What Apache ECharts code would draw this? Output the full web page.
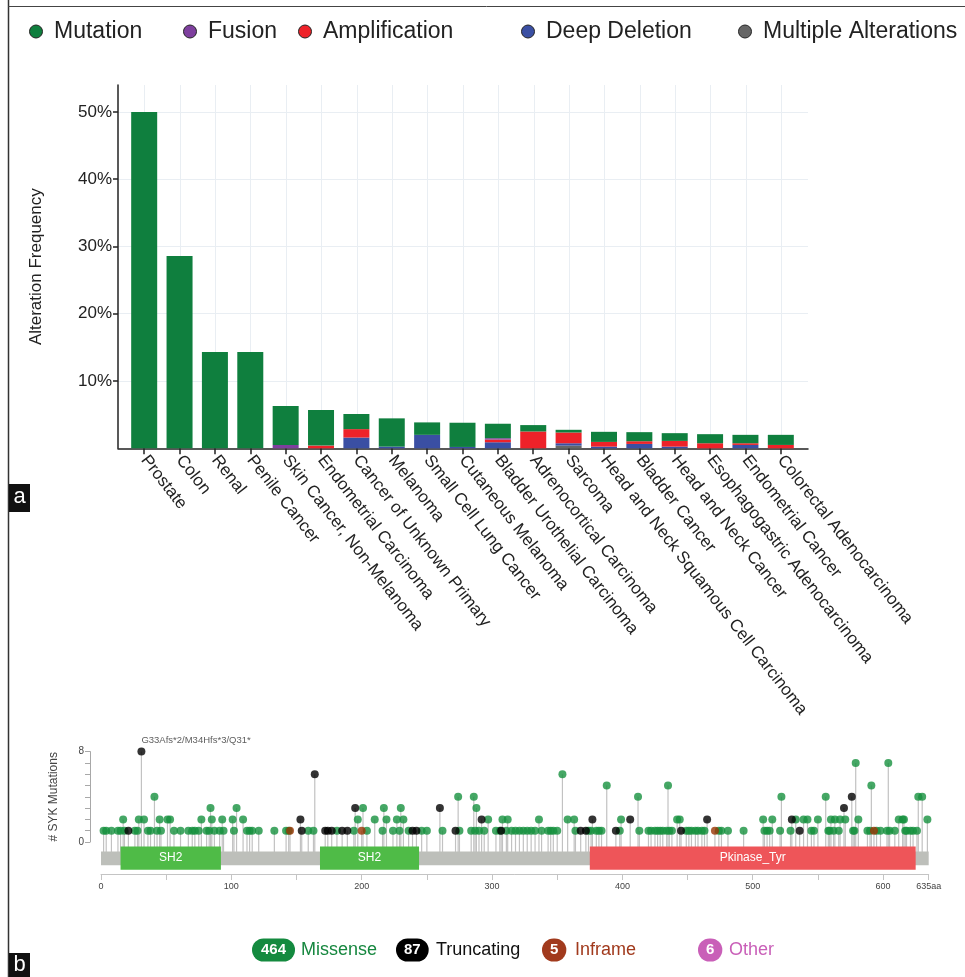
<!DOCTYPE html>
<html><head><meta charset="utf-8">
<script src="https://cdn.jsdelivr.net/npm/echarts@6/dist/echarts.min.js"></script>
<style>html,body{margin:0;padding:0;background:#fff}#c{width:965px;height:977px}</style>
</head><body><div id="c"></div>
<script>
// ---------- Panel a: alteration frequency ----------
const cancerTypes = ["Prostate","Colon","Renal","Penile Cancer","Skin Cancer, Non-Melanoma","Endometrial Carcinoma","Cancer of Unknown Primary","Melanoma","Small Cell Lung Cancer","Cutaneous Melanoma","Bladder Urothelial Carcinoma","Adrenocortical Carcinoma","Sarcoma","Head and Neck Squamous Cell Carcinoma","Bladder Cancer","Head and Neck Cancer","Esophagogastric Adenocarcinoma","Endometrial Cancer","Colorectal Adenocarcinoma"];
const mutationFreq      = [50, 28.6, 14.3, 14.3, 5.8, 5.3, 2.25, 4.2, 1.85, 3.6, 2.15, 0.95, 0.4, 1.5, 1.35, 1.15, 1.35, 1.25, 1.5];
const fusionFreq        = [0, 0, 0, 0, 0.5, 0, 0, 0, 0, 0, 0.2, 0, 0, 0, 0, 0, 0, 0, 0];
const amplificationFreq = [0, 0, 0, 0, 0, 0.4, 1.25, 0, 0, 0, 0.4, 2.5, 1.6, 0.7, 0.4, 0.85, 0.75, 0.25, 0.5];
const deepDeletionFreq  = [0, 0, 0, 0, 0, 0, 1.6, 0.25, 2.0, 0.2, 0.9, 0, 0.35, 0.25, 0.65, 0.25, 0, 0.5, 0];
const multipleAltFreq   = [0, 0, 0, 0, 0, 0, 0, 0, 0, 0, 0, 0, 0.4, 0, 0, 0, 0, 0, 0];
const freqTicks = [10, 20, 30, 40, 50];

// ---------- Panel b: SYK lollipop ----------
const proteinLength = 635;
const domainNames = ["SH2", "SH2", "Pkinase_Tyr"];
const domainStart = [15, 168, 375];
const domainEnd   = [92, 244, 625];
const positionTicks = [0, 50, 100, 150, 200, 250, 300, 350, 400, 450, 500, 550, 600, 635];
const positionLabels = [0, 100, 200, 300, 400, 500, 600, 635];

const missenseCount1 = [2,4,8,13,15,18,26,28,36,38,43,46,56,61,67,70,72,75,81,83,87,91,94,102,112,114,116,121,133,142,144,159,163,181,194,204,216,224,229,236,246,250,262,275,284,287,290,294,303,306,311,315,318,321,324,327,330,333,338,343,345,347,350,364,374,376,380,382,384,398,413,420,422,425,427,429,431,434,436,438,449,451,453,456,458,461,463,474,476,481,493,509,511,513,521,529,545,547,558,559,562,566,577,578,588,590,595,598,603,605,609,617,618,621,623,626];
const missenseCount2 = [17,29,33,45,51,53,77,85,93,101,109,197,210,219,227,232,297,308,312,336,358,363,399,442,444,508,515,533,539,542,550,560,563,567,571,581,612,615,616,634];
const missenseCount3 = [84,104,201,217,230,288];
const missenseCount4 = [41,274,286,412,522,556,627,630];
const missenseCount5 = [388,435,591];
const missenseCount6 = [354];
const missenseCount7 = [579,604];
const truncatingCount1 = [21,154,172,174,177,185,189,239,242,272,307,368,372,395,445,536];
const truncatingCount2 = [153,292,377,406,465,530];
const truncatingCount3 = [195,260,570];
const truncatingCount4 = [576];
const truncatingCount6 = [164];
const truncatingCount8 = [31];
const inframeCount1 = [145,200,471,593];
const hotspotPosition = 31;
const hotspotLabel = "G33Afs*2/M34Hfs*3/Q31*";

const legendCounts = ["464", "87", "5", "6"];
const legendTypes = ["Missense", "Truncating", "Inframe", "Other"];

// ---------- build ----------
const F = '"Liberation Sans", Arial, Helvetica, sans-serif';
const COL = {mut:'#0f7f3e', fus:'#7e3f9e', amp:'#ee2229', del:'#3a4fa3', mult:'#666666'};
const LOLLI = {missense:'#17913f', truncating:'#000000', inframe:'#993404'};
const domainColors = {"SH2":'#4fbb47', "Pkinase_Tyr":'#ee5559'};

function pts(arr, c){ return arr.map(p => [p, c]); }
const missenseData = [].concat(pts(missenseCount1,1),pts(missenseCount2,2),pts(missenseCount3,3),pts(missenseCount4,4),pts(missenseCount5,5),pts(missenseCount6,6),pts(missenseCount7,7));
const truncatingData = [].concat(pts(truncatingCount1,1),pts(truncatingCount2,2),pts(truncatingCount3,3),pts(truncatingCount4,4),pts(truncatingCount6,6),pts(truncatingCount8,8))
  .map(d => d[0] === hotspotPosition ? {value:d, label:{show:true, formatter:hotspotLabel, position:'top', align:'left', distance:2, fontSize:9.5, color:'#333', fontFamily:F}} : d);
const inframeData = pts(inframeCount1,1);
const allStems = [].concat(missenseData, truncatingData.map(d => d.value ? d.value : d), inframeData);
const proteinData = [[0, proteinLength, -1]].concat(domainNames.map((n,i) => [domainStart[i], domainEnd[i], i]));

function bar(name, data, color){
  return {type:'bar', name, data, stack:'alt', xAxisIndex:1, yAxisIndex:1, barWidth:26, itemStyle:{color}, emphasis:{disabled:true}};
}
function leg(name, left){
  return {data:[name], left, top:15, icon:'circle', itemWidth:26, itemHeight:13, selectedMode:false,
    itemStyle:{borderColor:'#222', borderWidth:1},
    textStyle:{fontSize:23, color:'#222', fontFamily:F}};
}

const chart = echarts.init(document.getElementById('c'));
const option = {
  animation:false,
  textStyle:{fontFamily:F},
  legend:[leg('Mutation',24), leg('Fusion',178), leg('Amplification',293), leg('Deep Deletion',516), leg('Multiple Alterations',733)],
  grid:[
    {left:118, width:690, top:85, height:363.3},
    {left:126.5, width:672, top:85, height:363.3},
    {left:101, width:827.7, top:751.6, height:90.4}
  ],
  xAxis:[
    {gridIndex:0, type:'value', min:-0.75, max:18.75,
     axisLine:{show:true, onZero:false, lineStyle:{color:'#222', width:1.5}},
     axisTick:{show:false, customValues:cancerTypes.map((_,i)=>i)},
     axisLabel:{show:false},
     splitLine:{show:true, lineStyle:{color:'#e9eef3', width:1}}},
    {gridIndex:1, type:'category', data:cancerTypes,
     axisLine:{show:false},
     axisTick:{show:true, alignWithLabel:true, length:6, lineStyle:{color:'#222', width:1.5}},
     axisLabel:{rotate:-52, interval:0, fontSize:17, color:'#222', margin:9, fontFamily:F},
     splitLine:{show:false}},
    {gridIndex:2, type:'value', min:0, max:proteinLength, offset:32,
     axisLine:{show:true, onZero:false, lineStyle:{color:'#c4c4c4'}},
     axisTick:{show:true, customValues:positionTicks, length:6, lineStyle:{color:'#c4c4c4'}},
     axisLabel:{customValues:positionLabels, formatter:v => v === proteinLength ? v + 'aa' : String(v), fontSize:9, color:'#444', margin:8, fontFamily:F},
     splitLine:{show:false}}
  ],
  yAxis:[
    {gridIndex:0, type:'value', min:0, max:54,
     axisLine:{show:true, onZero:false, lineStyle:{color:'#222', width:1.5}},
     axisTick:{show:true, customValues:freqTicks, length:5, lineStyle:{color:'#222', width:1.5}},
     axisLabel:{customValues:freqTicks, formatter:'{value}%', fontSize:17, color:'#222', margin:6, fontFamily:F},
     splitLine:{show:true, lineStyle:{color:'#e9eef3', width:1}},
     name:'Alteration Frequency', nameLocation:'middle', nameGap:73,
     nameTextStyle:{fontSize:17, color:'#222', fontFamily:F}},
    {gridIndex:1, type:'value', min:0, max:54, show:false},
    {gridIndex:2, type:'value', min:0, max:8, interval:1, offset:11,
     axisLine:{show:true, onZero:false, lineStyle:{color:'#a8a8a8'}},
     axisTick:{show:true, length:5, lineStyle:{color:'#a8a8a8'}},
     axisLabel:{formatter:v => (v === 0 || v === 8) ? String(v) : '', fontSize:10, color:'#444', margin:6, fontFamily:F},
     splitLine:{show:false},
     name:'# SYK Mutations', nameLocation:'middle', nameGap:30,
     nameTextStyle:{fontSize:12, color:'#444', fontFamily:F}}
  ],
  series:[
    bar('Multiple Alterations', multipleAltFreq, COL.mult),
    bar('Deep Deletion', deepDeletionFreq, COL.del),
    bar('Amplification', amplificationFreq, COL.amp),
    bar('Fusion', fusionFreq, COL.fus),
    bar('Mutation', mutationFreq, COL.mut),
    {type:'custom', name:'stems', xAxisIndex:2, yAxisIndex:2, clip:false, z:1, silent:true,
     data:allStems,
     renderItem:(params, api) => {
       const top = api.coord([api.value(0), api.value(1)]);
       const bot = api.coord([api.value(0), -0.9]);
       return {type:'line', shape:{x1:top[0], y1:top[1], x2:bot[0], y2:bot[1]}, style:{stroke:'#c2c2c2', lineWidth:1.2}};
     }},
    {type:'custom', name:'protein', xAxisIndex:2, yAxisIndex:2, clip:false, z:3, silent:true,
     data:proteinData,
     renderItem:(params, api) => {
       const idx = api.value(2);
       if (idx < 0) {
         const a = api.coord([api.value(0), -0.85]);
         const b = api.coord([api.value(1), -2.05]);
         return {type:'rect', shape:{x:a[0], y:a[1], width:b[0]-a[0], height:b[1]-a[1]}, style:{fill:'#bdbfba'}};
       }
       const name = domainNames[idx];
       const a = api.coord([api.value(0), -0.4]);
       const b = api.coord([api.value(1), -2.45]);
       return {type:'group', children:[
         {type:'rect', shape:{x:a[0], y:a[1], width:b[0]-a[0], height:b[1]-a[1]}, style:{fill:domainColors[name]}},
         {type:'text', style:{text:name, x:(a[0]+b[0])/2, y:(a[1]+b[1])/2, align:'center', verticalAlign:'middle', fill:'#fff', font:'12px ' + F}}
       ]};
     }},
    {type:'scatter', name:'Missense', xAxisIndex:2, yAxisIndex:2, data:missenseData, symbolSize:8, z:5, itemStyle:{color:LOLLI.missense}, emphasis:{disabled:true}},
    {type:'scatter', name:'Truncating', xAxisIndex:2, yAxisIndex:2, data:truncatingData, symbolSize:8, z:6, itemStyle:{color:LOLLI.truncating}, emphasis:{disabled:true}},
    {type:'scatter', name:'Inframe', xAxisIndex:2, yAxisIndex:2, data:inframeData, symbolSize:8, z:6, itemStyle:{color:LOLLI.inframe}, emphasis:{disabled:true}}
  ],
  graphic:[
    {type:'line', shape:{x1:8.5, y1:0, x2:8.5, y2:977}, style:{stroke:'#333', lineWidth:1.5}, silent:true},
    {type:'line', shape:{x1:8, y1:6.5, x2:965, y2:6.5}, style:{stroke:'#444', lineWidth:1}, silent:true},
    {type:'rect', shape:{x:9, y:484, width:21, height:28}, style:{fill:'#111'}, silent:true},
    {type:'text', style:{text:'a', x:19.5, y:497, align:'center', verticalAlign:'middle', fill:'#fff', font:'22px ' + F}, silent:true},
    {type:'rect', shape:{x:9, y:953, width:21, height:24}, style:{fill:'#111'}, silent:true},
    {type:'text', style:{text:'b', x:19.5, y:965, align:'center', verticalAlign:'middle', fill:'#fff', font:'22px ' + F}, silent:true},
    // bottom mutation-type legend
    {type:'text', style:{text:legendCounts[0], x:252, y:950, verticalAlign:'middle', fill:'#fff', font:'bold 15px ' + F, backgroundColor:'#148a3f', padding:[4,9,4,9], borderRadius:12}, silent:true},
    {type:'text', style:{text:legendTypes[0], x:301, y:950, verticalAlign:'middle', fill:'#16873f', font:'18px ' + F}, silent:true},
    {type:'text', style:{text:legendCounts[1], x:396, y:950, verticalAlign:'middle', fill:'#fff', font:'bold 15px ' + F, backgroundColor:'#000', padding:[4,8,4,8], borderRadius:12}, silent:true},
    {type:'text', style:{text:legendTypes[1], x:436, y:950, verticalAlign:'middle', fill:'#111', font:'18px ' + F}, silent:true},
    {type:'text', style:{text:legendCounts[2], x:542, y:950, verticalAlign:'middle', fill:'#fff', font:'bold 15px ' + F, backgroundColor:'#a13a1d', padding:[4,8,4,8], borderRadius:12}, silent:true},
    {type:'text', style:{text:legendTypes[2], x:575, y:950, verticalAlign:'middle', fill:'#a13a1d', font:'18px ' + F}, silent:true},
    {type:'text', style:{text:legendCounts[3], x:698, y:950, verticalAlign:'middle', fill:'#fff', font:'bold 15px ' + F, backgroundColor:'#c95fb8', padding:[4,8,4,8], borderRadius:12}, silent:true},
    {type:'text', style:{text:legendTypes[3], x:729, y:950, verticalAlign:'middle', fill:'#c95fb8', font:'18px ' + F}, silent:true}
  ]
};
chart.setOption(option);
</script></body></html>
